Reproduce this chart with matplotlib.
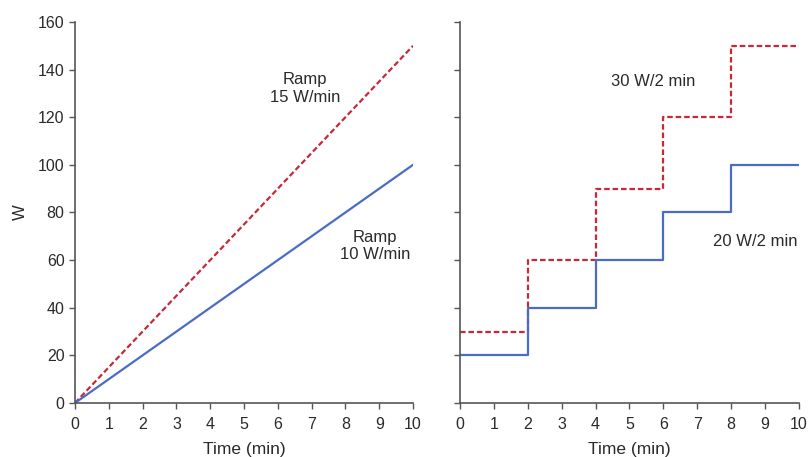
import matplotlib
matplotlib.use("Agg")
import matplotlib.pyplot as plt
import numpy as np

plt.rcParams['font.family'] = ['Liberation Sans', 'DejaVu Sans']

# ramp protocols (W over time)
ramp_t = [0, 10]
ramp_15 = [0, 150]
ramp_10 = [0, 100]

# step protocols: start time of each 2-min stage and its load
step_t = [0, 2, 4, 6, 8, 10]
step_30 = [30, 60, 90, 120, 150, 150]
step_20 = [20, 40, 60, 80, 100, 100]

red = '#c8283a'
blue = '#4a6cc4'
txt = '#2a2a2a'

fig = plt.figure(figsize=(8.09, 4.57), dpi=100)
ax1 = fig.add_axes([0.0927, 0.1182, 0.4178, 0.8337])
ax2 = fig.add_axes([0.5686, 0.1182, 0.4190, 0.8337])

ax1.plot(ramp_t, ramp_15, color=red, lw=1.6, ls=(0, (2.5, 1.3)))
ax1.plot(ramp_t, ramp_10, color=blue, lw=1.6)
ax1.text(6.8, 132, 'Ramp\n15 W/min', ha='center', va='center', fontsize=12, color=txt)
ax1.text(8.88, 66, 'Ramp\n10 W/min', ha='center', va='center', fontsize=12, color=txt)
ax1.set_ylabel('W', fontsize=12, color=txt, labelpad=7)

ax2.step(step_t, step_30, where='post', color=red, lw=1.6, ls=(0, (2.5, 1.3)))
ax2.step(step_t, step_20, where='post', color=blue, lw=1.6)
ax2.text(5.7, 135, '30 W/2 min', ha='center', va='center', fontsize=12, color=txt)
ax2.text(8.7, 68, '20 W/2 min', ha='center', va='center', fontsize=12, color=txt)
ax2.tick_params(axis='y', labelleft=False)

for ax in (ax1, ax2):
    ax.set_xlim(0, 10)
    ax.set_ylim(0, 160)
    ax.set_xticks(np.arange(0, 11, 1))
    ax.set_yticks(np.arange(0, 161, 20))
    ax.set_xlabel('Time (min)', fontsize=12.5, color=txt, labelpad=7)
    for s in ('top', 'right'):
        ax.spines[s].set_visible(False)
    for s in ('left', 'bottom'):
        ax.spines[s].set_color('#555555')
        ax.spines[s].set_linewidth(1.2)
    ax.tick_params(direction='out', length=4, width=1, colors='#555555',
                   labelcolor=txt, labelsize=11.5)
    ax.tick_params(axis='x', pad=6)

fig.savefig('out.png', dpi=100)
